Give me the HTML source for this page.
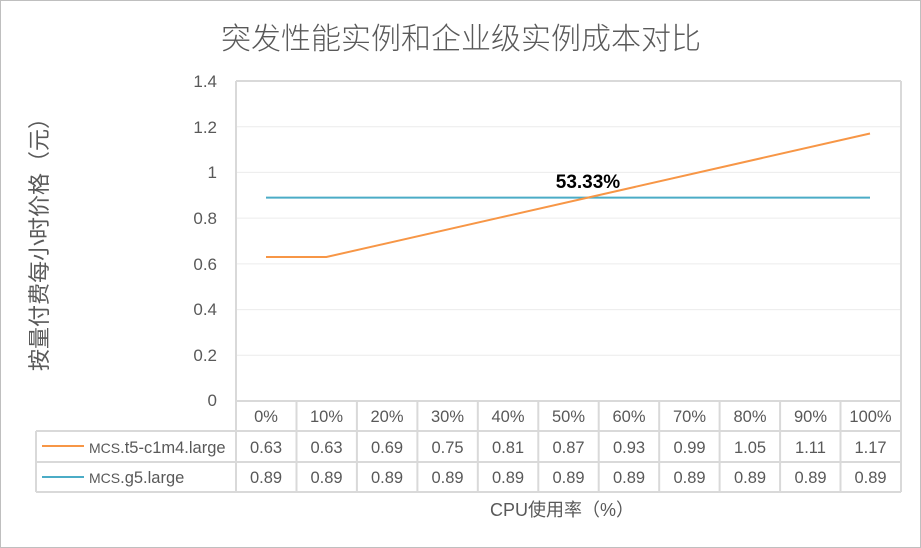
<!DOCTYPE html>
<html><head><meta charset="utf-8"><style>
html,body{margin:0;padding:0;background:#fff;}
svg{display:block;}
text{font-family:"Liberation Sans","Noto Sans CJK SC",sans-serif;fill:#595959;}
</style></head><body>
<svg width="921" height="548" xmlns="http://www.w3.org/2000/svg">
<rect x="0.5" y="0.5" width="920" height="547" fill="#fff" stroke="#bfbfbf"/>
<text x="461" y="49" font-size="30" text-anchor="middle" style="font-family:'Noto Sans CJK SC',sans-serif;font-weight:300">突发性能实例和企业级实例成本对比</text>
<g stroke="#ececec" stroke-width="1">
<line x1="236" x2="901" y1="126.8" y2="126.8"/>
<line x1="236" x2="901" y1="172.4" y2="172.4"/>
<line x1="236" x2="901" y1="218.1" y2="218.1"/>
<line x1="236" x2="901" y1="263.9" y2="263.9"/>
<line x1="236" x2="901" y1="309.6" y2="309.6"/>
<line x1="236" x2="901" y1="355.3" y2="355.3"/>
</g>
<g stroke="#d9d9d9" stroke-width="2" fill="none">
<line x1="236" x2="901" y1="81" y2="81"/>
<line x1="236" x2="236" y1="81" y2="492"/>
<line x1="901" x2="901" y1="81" y2="492"/>
<line x1="236" x2="901" y1="401" y2="401"/>
<line x1="36" x2="901" y1="431" y2="431"/>
<line x1="36" x2="901" y1="462" y2="462"/>
<line x1="36" x2="901" y1="492" y2="492"/>
<line x1="36" x2="36" y1="431" y2="492"/>
<line x1="296.5" x2="296.5" y1="401" y2="492"/>
<line x1="356.9" x2="356.9" y1="401" y2="492"/>
<line x1="417.4" x2="417.4" y1="401" y2="492"/>
<line x1="477.8" x2="477.8" y1="401" y2="492"/>
<line x1="538.3" x2="538.3" y1="401" y2="492"/>
<line x1="598.7" x2="598.7" y1="401" y2="492"/>
<line x1="659.2" x2="659.2" y1="401" y2="492"/>
<line x1="719.6" x2="719.6" y1="401" y2="492"/>
<line x1="780.1" x2="780.1" y1="401" y2="492"/>
<line x1="840.5" x2="840.5" y1="401" y2="492"/>
</g>
<g font-size="17" text-anchor="end">
<text x="217" y="87">1.4</text>
<text x="217" y="133">1.2</text>
<text x="217" y="178">1</text>
<text x="217" y="224">0.8</text>
<text x="217" y="270">0.6</text>
<text x="217" y="315">0.4</text>
<text x="217" y="361">0.2</text>
<text x="217" y="406">0</text>
</g>
<polyline fill="none" stroke="#4bacc6" stroke-width="2" points="266,197.6 870,197.6"/>
<polyline fill="none" stroke="#f79646" stroke-width="2" points="266,257 326.4,257 870,133.5"/>
<text x="588" y="188" font-size="19" font-weight="bold" text-anchor="middle" style="fill:#000">53.33%</text>
<g font-size="16.5" text-anchor="middle">
<text x="266" y="422">0%</text><text x="326.5" y="422">10%</text><text x="387" y="422">20%</text><text x="447.5" y="422">30%</text><text x="508" y="422">40%</text><text x="568.5" y="422">50%</text><text x="629" y="422">60%</text><text x="689.5" y="422">70%</text><text x="750" y="422">80%</text><text x="810.5" y="422">90%</text><text x="870.5" y="422">100%</text>
<text x="266" y="453">0.63</text><text x="326.5" y="453">0.63</text><text x="387" y="453">0.69</text><text x="447.5" y="453">0.75</text><text x="508" y="453">0.81</text><text x="568.5" y="453">0.87</text><text x="629" y="453">0.93</text><text x="689.5" y="453">0.99</text><text x="750" y="453">1.05</text><text x="810.5" y="453">1.11</text><text x="870.5" y="453">1.17</text>
<text x="266" y="483">0.89</text><text x="326.5" y="483">0.89</text><text x="387" y="483">0.89</text><text x="447.5" y="483">0.89</text><text x="508" y="483">0.89</text><text x="568.5" y="483">0.89</text><text x="629" y="483">0.89</text><text x="689.5" y="483">0.89</text><text x="750" y="483">0.89</text><text x="810.5" y="483">0.89</text><text x="870.5" y="483">0.89</text>
</g>
<line x1="42" x2="84" y1="446" y2="446" stroke="#f79646" stroke-width="2"/>
<line x1="42" x2="84" y1="477" y2="477" stroke="#4bacc6" stroke-width="2"/>
<text x="89" y="453" font-size="16.5"><tspan font-size="14">MCS</tspan>.t5-c1m4.large</text>
<text x="89" y="483" font-size="16.5"><tspan font-size="14">MCS</tspan>.g5.large</text>
<text x="562" y="516" font-size="18" text-anchor="middle">CPU使用率（%）</text>
<text transform="translate(47,239) rotate(-90)" font-size="22" text-anchor="middle">按量付费每小时价格（元）</text>
</svg>
</body></html>
